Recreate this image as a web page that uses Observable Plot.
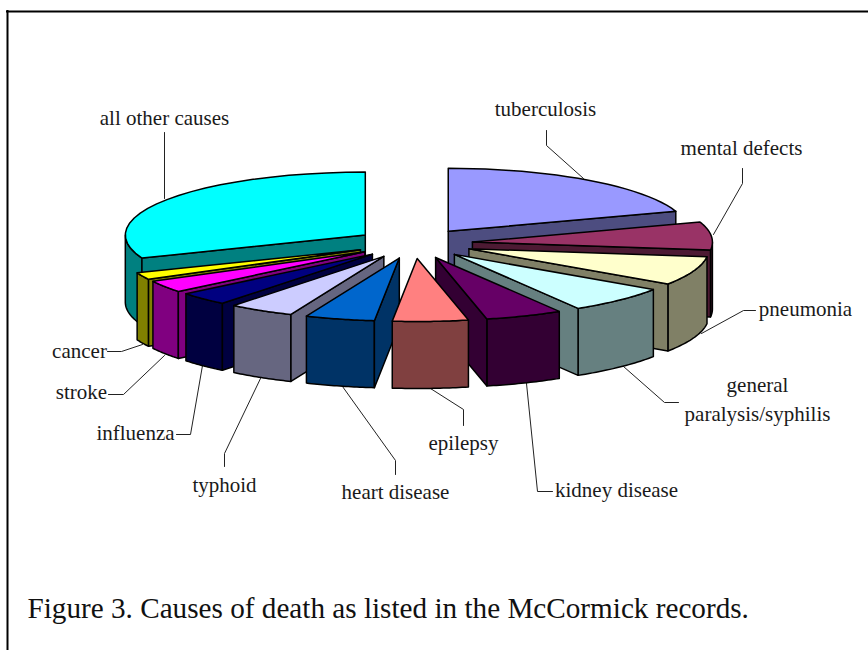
<!DOCTYPE html>
<html>
<head>
<meta charset="utf-8">
<script src="https://cdn.jsdelivr.net/npm/d3@7"></script>
<script src="https://cdn.jsdelivr.net/npm/@observablehq/plot@0.6"></script>
<style>html,body{margin:0;padding:0;background:#fff}svg{display:block}</style>
</head>
<body>
<div id="chart"></div>
<script>
// Slices clockwise from 12 o'clock, share of deaths (percent)
const causes = ["tuberculosis","mental defects","pneumonia","general paralysis/syphilis","kidney disease","epilepsy","heart disease","typhoid","influenza","stroke","cancer","all other causes"];
const shares = [19.85,7.17,7.42,6.94,5.19,5.08,4.67,4.42,3.42,3.06,1.81,30.96];
const topColors = ["#9999FF","#993366","#FFFFCC","#CCFFFF","#660066","#FF8080","#0066CC","#CCCCFF","#000080","#FF00FF","#FFFF00","#00FFFF"];

// Label placement: text lines, anchor, leader line
const labelLayout = [
  {lines:["tuberculosis"], x:545, y:109, leader:[[546,130],[546,145],[583,178]]},
  {lines:["mental defects"], x:741, y:148, leader:[[742,168],[742,183],[713,234]]},
  {lines:["pneumonia"], x:805, y:309, leader:[[755,310],[743,310],[701,333]]},
  {lines:["general","paralysis/syphilis"], x:757, y:385, leader:[[678,402],[664,402],[623,366]]},
  {lines:["kidney disease"], x:616, y:490, leader:[[552,491],[537,491],[526,383]]},
  {lines:["epilepsy"], x:463, y:443, leader:[[463,425],[463,409],[430,388]]},
  {lines:["heart disease"], x:395, y:492, leader:[[395,474],[395,460],[342,386]]},
  {lines:["typhoid"], x:224, y:485, leader:[[224,466],[224,453],[260,378]]},
  {lines:["influenza"], x:135, y:433, leader:[[176,434],[190,434],[202,365]]},
  {lines:["stroke"], x:81, y:392, leader:[[108,394],[123,394],[164,355]]},
  {lines:["cancer"], x:79, y:351, leader:[[107,351],[121,351],[142,344]]},
  {lines:["all other causes"], x:164, y:118, leader:[[164,132],[164,198]]}
];
const caption = "Figure 3. Causes of death as listed in the McCormick records.";

// Pie geometry
const cx = 413.4, cy = 243, Rx = 240, Ry = 63, Ex = 58.8, Ey = 15, depth = 67;
const total = d3.sum(shares);
const rad = d => d * Math.PI / 180;
let cum = 0;
const slices = shares.map((v, i) => {
  const a0 = cum / total * 360; cum += v; const a1 = cum / total * 360;
  const mid = (a0 + a1) / 2;
  const ax = cx + Ex * Math.sin(rad(mid)), ay = cy - Ey * Math.cos(rad(mid));
  return {i, a0, a1, mid, ax, ay};
});
const rim = (s, a, dz = 0) => [s.ax + Rx * Math.sin(rad(a)), s.ay - Ry * Math.cos(rad(a)) + dz];
const arc = (s, a0, a1, dz = 0) => d3.range(0, 25).map(k => rim(s, a0 + (a1 - a0) * k / 24, dz));
const shade = c => { const r = d3.rgb(c); return d3.rgb(r.r * .5, r.g * .5, r.b * .5).formatHex(); };

const polys = [];
const addPoly = (pts, fill, id) => { const c = [...pts, pts[0]]; c.forEach(([x, y]) => polys.push({x, y, fill, id})); };
const order = [...slices].sort((p, q) => Math.abs(q.mid - 180) - Math.abs(p.mid - 180));
for (const s of order) {
  const top = topColors[s.i], dark = shade(top);
  const lo = Math.max(s.a0, 90), hi = Math.min(s.a1, 270);
  if (hi > lo) addPoly([...arc(s, lo, hi), ...arc(s, lo, hi, depth).reverse()], dark, s.i + "w");
  const a = Math.sin(rad(s.a1)) > 0 ? s.a1 : null;
  const b = Math.sin(rad(s.a0)) < 0 ? s.a0 : null;
  for (const e of [a, b]) if (e !== null) addPoly([[s.ax, s.ay], rim(s, e), rim(s, e, depth), [s.ax, s.ay + depth]], dark, s.i + "r" + e);
  addPoly([[s.ax, s.ay], ...arc(s, s.a0, s.a1)], top, s.i + "t");
}

const leaders = labelLayout.flatMap((l, i) => l.leader.map(([x, y]) => ({x, y, i})));
const labels = labelLayout.flatMap(l => l.lines.map((t, k) => ({t, x: l.x, y: l.y + k * 29})));
const font = "'Liberation Serif', serif";

const chart = Plot.plot({
  width: 868, height: 650, margin: 0,
  x: {domain: [0, 868], range: [0, 868], axis: null},
  y: {domain: [0, 650], range: [0, 650], axis: null},
  marks: [
    Plot.ruleY([11], {x1: 6, x2: 868, stroke: "#000", strokeWidth: 2}),
    Plot.ruleX([7], {y1: 10, y2: 650, stroke: "#000", strokeWidth: 2}),
    Plot.line(leaders, {x: "x", y: "y", z: "i", stroke: "#222", strokeWidth: 1}),
    Plot.line(polys, {x: "x", y: "y", z: "id", fill: "fill", stroke: "#000", strokeWidth: 1.5, strokeLinejoin: "round"}),
    Plot.text(labels, {x: "x", y: "y", text: "t", fontFamily: font, fontSize: 21, fill: "#1a1a1a"}),
    Plot.text([caption], {x: () => 27, y: () => 608, text: d => d, textAnchor: "start", fontFamily: font, fontSize: 29.2, fill: "#111"})
  ]
});
document.getElementById("chart").append(chart);
</script>
</body>
</html>
